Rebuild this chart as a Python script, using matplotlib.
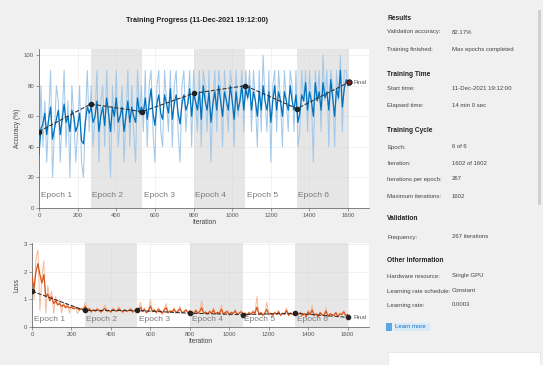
import numpy as np
import matplotlib
matplotlib.use("Agg")
import matplotlib.pyplot as plt
from matplotlib.patches import Rectangle

plt.rcParams['font.family'] = ['Liberation Sans', 'DejaVu Sans']

# ---------------- data ----------------
step = 10  # iterations between recorded samples
acc_raw = [30, 80, 40, 70, 30, 60, 90, 20, 50, 80, 70, 30, 60, 90, 40, 70, 20, 80, 60, 30, 50, 80, 30, 20, 60, 90, 50,
           80, 40, 60, 90, 30, 70, 80, 40, 90, 60, 20, 80, 50, 90, 40, 60, 80, 30, 60, 90, 40, 80, 50, 30, 90, 60, 80,
           50, 90, 40, 80, 90, 50, 30, 80, 90, 50, 40, 90, 70, 50, 90, 40, 80, 90, 50, 30, 80, 90, 50, 70, 90, 40, 90,
           70, 50, 90, 40, 90, 80, 50, 90, 30, 70, 90, 50, 90, 80, 40, 90, 70, 50, 90, 80, 40, 90, 60, 70, 90, 50, 90,
           70, 90, 50, 90, 70, 40, 90, 50, 100, 70, 50, 90, 30, 80, 90, 50, 90, 70, 40, 90, 70, 50, 90, 80, 50, 90, 40,
           50, 90, 70, 90, 50, 90, 70, 30, 90, 70, 90, 50, 100, 70, 90, 40, 90, 80, 40, 90, 70, 100, 50, 90, 90, 80]
acc_smooth = [35, 52, 55, 62, 48, 58, 66, 45, 52, 58, 64, 48, 58, 68, 56, 60, 50, 64, 60, 50, 54, 62, 44, 42, 56, 66, 62,
              66, 56, 60, 70, 50, 60, 66, 54, 72, 62, 50, 66, 60, 72, 56, 60, 66, 50, 60, 70, 56, 66, 60, 56, 72, 62, 66,
              62, 72, 58, 68, 78, 62, 54, 68, 74, 62, 58, 74, 68, 62, 78, 58, 68, 74, 62, 55, 68, 74, 64, 68, 78, 60, 74,
              70, 64, 76, 58, 80, 70, 64, 76, 56, 68, 76, 64, 80, 70, 60, 76, 70, 64, 80, 70, 58, 76, 64, 70, 80, 64, 78,
              72, 80, 64, 76, 70, 60, 76, 64, 80, 70, 64, 76, 56, 70, 80, 64, 76, 70, 60, 76, 70, 64, 80, 70, 64, 74, 56,
              62, 74, 70, 82, 64, 76, 70, 60, 82, 70, 76, 64, 82, 72, 76, 64, 84, 72, 60, 78, 72, 90, 66, 78, 84, 80]
loss_raw = [2.1, 1.0, 2.5, 2.8, 0.6, 1.8, 2.4, 0.5, 1.5, 1.0, 1.3, 0.5, 1.1, 0.8, 1.0, 0.5, 0.9, 0.7, 0.85, 0.5, 0.8, 0.65, 0.75, 0.5, 0.6, 0.7, 0.65,
            0.9, 0.6, 0.7, 0.5, 0.65, 0.55, 0.7, 0.6, 0.5, 0.65, 0.8, 0.55, 0.6, 0.5, 0.7, 0.6, 0.55, 0.75, 0.6, 0.5, 0.65, 0.55, 0.6, 0.7, 0.5, 0.6, 0.65,
            0.6, 0.9, 0.55, 0.7, 0.5, 0.6, 1.0, 0.55, 0.65, 0.5, 0.7, 0.6, 0.45, 0.65, 0.85, 0.5, 0.6, 0.55, 0.7, 0.5, 0.6, 0.75, 0.5, 0.55, 0.65, 0.5, 0.6,
            0.55, 0.45, 0.65, 0.5, 0.6, 0.95, 0.5, 0.55, 0.45, 0.6, 0.5, 0.7, 0.45, 0.55, 0.5, 0.8, 0.45, 0.55, 0.6, 0.4, 0.55, 0.5, 0.65, 0.45, 0.5, 0.6, 0.45,
            0.5, 0.4, 0.55, 0.45, 0.6, 0.5, 1.1, 0.45, 0.55, 0.4, 0.5, 0.9, 0.45, 0.5, 0.4, 0.55, 0.45, 0.6, 0.4, 0.5, 0.45, 0.7, 0.4, 0.5, 0.45, 0.55, 0.5,
            0.45, 0.55, 0.4, 0.5, 0.35, 0.6, 0.45, 0.8, 0.4, 0.5, 0.35, 0.55, 0.45, 0.4, 0.7, 0.35, 0.5, 0.45, 0.4, 0.55, 0.35, 0.5, 0.45, 0.6, 0.4, 0.45]
loss_smooth = [1.8, 1.4, 2.0, 2.3, 1.9, 1.6, 1.9, 1.1, 1.2, 0.95, 1.1, 0.85, 0.95, 0.8, 0.85, 0.75, 0.8, 0.7, 0.75, 0.7, 0.72, 0.66, 0.7, 0.68, 0.62, 0.66, 0.62,
               0.75, 0.62, 0.66, 0.56, 0.62, 0.58, 0.64, 0.6, 0.55, 0.62, 0.68, 0.58, 0.6, 0.55, 0.64, 0.6, 0.57, 0.66, 0.6, 0.55, 0.62, 0.57, 0.6, 0.64, 0.55, 0.6, 0.62,
               0.6, 0.72, 0.56, 0.64, 0.52, 0.58, 0.76, 0.56, 0.62, 0.52, 0.64, 0.58, 0.5, 0.62, 0.7, 0.52, 0.58, 0.55, 0.64, 0.52, 0.58, 0.66, 0.52, 0.55, 0.62, 0.52, 0.58,
               0.55, 0.48, 0.6, 0.5, 0.56, 0.7, 0.5, 0.54, 0.48, 0.56, 0.5, 0.62, 0.47, 0.53, 0.5, 0.64, 0.47, 0.53, 0.56, 0.44, 0.53, 0.5, 0.58, 0.46, 0.5, 0.55, 0.47,
               0.5, 0.44, 0.52, 0.46, 0.55, 0.5, 0.72, 0.46, 0.52, 0.43, 0.5, 0.64, 0.46, 0.5, 0.43, 0.52, 0.46, 0.55, 0.43, 0.5, 0.46, 0.6, 0.43, 0.5, 0.46, 0.52, 0.5,
               0.46, 0.52, 0.42, 0.48, 0.38, 0.55, 0.45, 0.62, 0.42, 0.48, 0.38, 0.52, 0.45, 0.42, 0.58, 0.38, 0.48, 0.45, 0.42, 0.52, 0.38, 0.48, 0.45, 0.55, 0.42, 0.45]
val_iters = [0, 267, 534, 801, 1068, 1335, 1602]
val_acc = [50, 68, 63, 75, 80, 65, 82.17]
val_loss = [1.3, 0.6, 0.6, 0.5, 0.45, 0.5, 0.35]
iters_per_epoch = 267
n_epochs = 6
epoch_labels = ["Epoch 1", "Epoch 2", "Epoch 3", "Epoch 4", "Epoch 5", "Epoch 6"]
x_ticks = [0, 200, 400, 600, 800, 1000, 1200, 1400, 1600]
acc_ticks = [0, 20, 40, 60, 80, 100]
loss_ticks = [0, 1, 2, 3]

info_rows = [
    ("h", "Results", ""),
    ("r", "Validation accuracy:", "82.17%"),
    ("r", "Training finished:", "Max epochs completed"),
    ("h", "Training Time", ""),
    ("r", "Start time:", "11-Dec-2021 19:12:00"),
    ("r", "Elapsed time:", "14 min 0 sec"),
    ("h", "Training Cycle", ""),
    ("r", "Epoch:", "6 of 6"),
    ("r", "Iteration:", "1602 of 1602"),
    ("r", "Iterations per epoch:", "267"),
    ("r", "Maximum iterations:", "1602"),
    ("h", "Validation", ""),
    ("r", "Frequency:", "267 iterations"),
    ("h", "Other Information", ""),
    ("r", "Hardware resource:", "Single GPU"),
    ("r", "Learning rate schedule:", "Constant"),
    ("r", "Learning rate:", "0.0003"),
]
info_y = [19, 32, 50, 75, 89, 106, 131, 147, 163, 179, 197, 219, 237, 260, 276, 291, 305]

# ---------------- figure ----------------
W, H = 543, 365
fig = plt.figure(figsize=(W / 100, H / 100), dpi=100, facecolor='#f0f0f0')

def px_axes(l, t, r, b):
    return fig.add_axes([l / W, 1 - b / H, (r - l) / W, (b - t) / H])

ax1 = px_axes(39, 49, 369, 208)
ax2 = px_axes(32, 243, 369, 327)

it_acc = np.arange(len(acc_raw)) * step
it_loss = np.arange(len(loss_raw)) * step
xmax = 1708

def style_axes(ax, ylim, yticks, ylabel, label_y):
    ax.set_facecolor('white')
    ax.set_xlim(0, xmax)
    ax.set_ylim(*ylim)
    for k in range(n_epochs):
        x0 = k * iters_per_epoch
        if k % 2 == 1:
            ax.axvspan(x0, x0 + iters_per_epoch, color='#e6e6e6', zorder=0, lw=0)
        ax.text(x0 + 8, label_y, epoch_labels[k], fontsize=6, color='#7a7a7a', zorder=5)
    ax.set_xticks(x_ticks)
    ax.set_yticks(yticks)
    ax.tick_params(labelsize=4.3, colors='#555555', length=2, width=0.4, pad=1.5)
    ax.grid(True, color='#d8d8d8', lw=0.4, alpha=0.6)
    ax.set_axisbelow(True)
    for s in ['top', 'right']:
        ax.spines[s].set_visible(False)
    for s in ['left', 'bottom']:
        ax.spines[s].set_color('#555555')
        ax.spines[s].set_linewidth(0.5)
    ax.set_xlabel("Iteration", fontsize=4.8, color='#444444', labelpad=1)
    ax.set_ylabel(ylabel, fontsize=4.8, color='#444444', labelpad=2)

style_axes(ax1, (0, 104), acc_ticks, "Accuracy (%)", 7)
style_axes(ax2, (0, 3.05), loss_ticks, "Loss", 0.22)

ax1.plot(it_acc, acc_raw, color='#a3c8e8', lw=0.75, zorder=2)
ax1.plot(it_acc, acc_smooth, color='#0072bd', lw=0.9, zorder=3)
ax1.plot(val_iters, val_acc, ls='--', color='#333333', lw=0.8, marker='o', ms=3,
         mfc='#222222', mec='#222222', zorder=4)
ax1.plot(val_iters[-1], val_acc[-1], marker='o', ms=3.5, mfc='#8b2020', mec='#222222', zorder=6)
ax1.text(val_iters[-1] + 25, val_acc[-1], "Final", fontsize=4.3, color='#555555', va='center')

ax2.plot(it_loss, loss_raw, color='#f6b999', lw=0.7, zorder=2)
ax2.plot(it_loss, loss_smooth, color='#d95319', lw=0.9, zorder=3)
ax2.plot(val_iters, val_loss, ls='--', color='#333333', lw=0.8, marker='o', ms=3,
         mfc='#222222', mec='#222222', zorder=4)
ax2.text(val_iters[-1] + 25, val_loss[-1], "Final", fontsize=4.3, color='#555555', va='center')

fig.text(197 / W, 1 - 20 / H, "Training Progress (11-Dec-2021 19:12:00)", fontsize=5.2,
         fontweight='bold', ha='center', va='center', color='#222222')

# ---------------- info panel ----------------
for (kind, label, value), y in zip(info_rows, info_y):
    yf = 1 - y / H
    if kind == "h":
        fig.text(387 / W, yf, label, fontsize=4.8, fontweight='bold', color='#222222', va='center')
    else:
        fig.text(387 / W, yf, label, fontsize=4.3, color='#444444', va='center')
        fig.text(452 / W, yf, value, fontsize=4.3, color='#444444', va='center')

fig.patches.append(Rectangle((386 / W, 1 - 331 / H), 6 / W, 8 / H, transform=fig.transFigure,
                             facecolor='#5aa9e6', edgecolor='none'))
fig.text(395 / W, 1 - 327 / H, "Learn more", fontsize=4.3, color='#1a6fc4', va='center')
fig.patches.append(Rectangle((394 / W, 1 - 331 / H), 36 / W, 8 / H, transform=fig.transFigure,
                             facecolor='#d6eaf8', edgecolor='none', zorder=-1))
fig.patches.append(Rectangle((388 / W, 0), 152 / W, 13 / H, transform=fig.transFigure,
                             facecolor='white', edgecolor='#dddddd', lw=0.4))
fig.patches.append(Rectangle((538 / W, 1 - 205 / H), 3 / W, 195 / H, transform=fig.transFigure,
                             facecolor='#cfcfcf', edgecolor='none'))

fig.savefig("out.png", dpi=100, facecolor=fig.get_facecolor())
